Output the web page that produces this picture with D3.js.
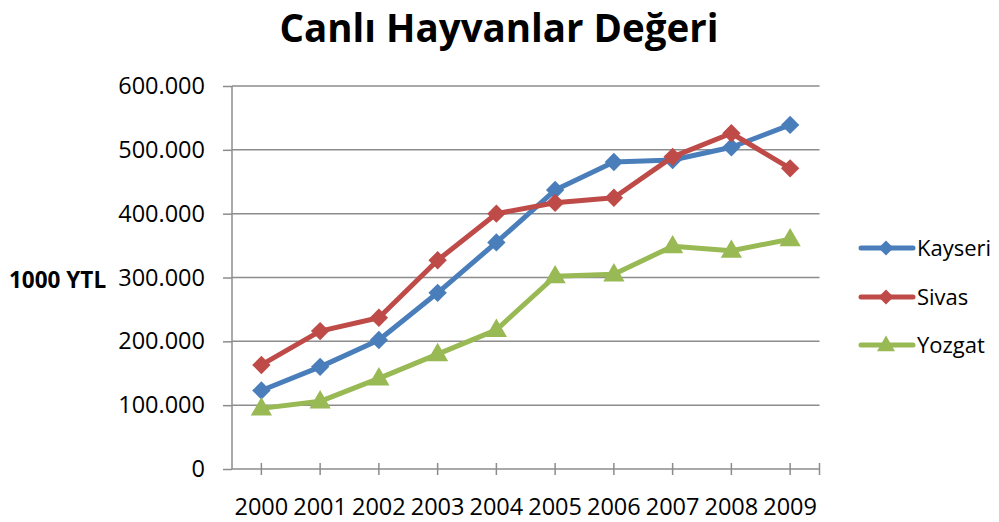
<!DOCTYPE html>
<html><head><meta charset="utf-8">
<script src="https://cdn.jsdelivr.net/npm/d3@7"></script>
<style>body{margin:0;background:#fff}svg{display:block}</style>
</head><body>
<script>
const years = ["2000","2001","2002","2003","2004","2005","2006","2007","2008","2009"];
const kayseri = [123,160,202,276,355,437,481,484,504,539];
const sivas   = [163,216,237,327,400,417,425,489,526,471];
const yozgat  = [95,106,142,180,218,302,305,349,342,360];
const yTicks = [0,100,200,300,400,500,600];
const seriesNames = ["Kayseri","Sivas","Yozgat"];
const colors = ["#4a7ebb","#be4b48","#98b954"];
const series = [kayseri,sivas,yozgat];

const W=999,H=522;
const svg=d3.select("body").append("svg").attr("width",W).attr("height",H);
const font="Open Sans, Liberation Sans, sans-serif";
const L=232,R=819.5,T=86,B=469;
const x=d3.scaleBand().domain(years).range([L,R]);
const y=d3.scaleLinear().domain([0,600]).range([B,T]);
const trFmt=d3.formatLocale({decimal:",",thousands:".",grouping:[3],currency:["",""]}).format(",");

svg.append("text").attr("x",499).attr("y",42).attr("text-anchor","middle")
  .attr("font-family",font).attr("font-weight","bold").attr("font-size",38.5)
  .attr("fill","#000").text("Canlı Hayvanlar Değeri");

// gridlines
svg.append("g").selectAll("line").data(yTicks.filter(d=>d>0)).join("line")
  .attr("x1",L).attr("x2",R).attr("y1",d=>y(d)).attr("y2",d=>y(d))
  .attr("stroke","#8c8c8c").attr("stroke-width",1.5);

// y axis
const ya=svg.append("g").attr("transform",`translate(${L},0)`)
  .call(d3.axisLeft(y).tickValues(yTicks).tickSize(9).tickPadding(18)
  .tickFormat(d=>trFmt(d*1000)));
ya.select(".domain").attr("stroke","#8c8c8c").attr("stroke-width",1.5).attr("d",`M0,${B}V${T}`);
ya.selectAll(".tick line").attr("stroke","#8c8c8c").attr("stroke-width",1.5);
ya.selectAll("text").attr("font-family",font).attr("font-size",23.5).attr("fill","#000");

// x axis
const xa=svg.append("g").attr("transform",`translate(0,${B})`);
xa.append("line").attr("x1",L).attr("x2",R).attr("stroke","#8c8c8c").attr("stroke-width",1.5);
const tickXs=years.map(d=>x(d)+x.bandwidth()/2).concat([R]);
xa.selectAll("line.t").data(tickXs).join("line").attr("class","t")
  .attr("x1",d=>d).attr("x2",d=>d).attr("y1",-6).attr("y2",6)
  .attr("stroke","#8c8c8c").attr("stroke-width",1.5);
xa.selectAll("text").data(years).join("text")
  .attr("x",d=>x(d)+x.bandwidth()/2).attr("y",46).attr("text-anchor","middle")
  .attr("font-family",font).attr("font-size",23.5).attr("fill","#000").text(d=>d);

svg.append("text").attr("x",9).attr("y",288).attr("font-family",font)
  .attr("font-weight","bold").attr("font-size",22.5).attr("fill","#000").text("1000 YTL");

const cx=d=>x(d)+x.bandwidth()/2;
const diamond=d3.symbol().type(d3.symbolDiamond2).size(215);
const tri=d3.symbol().type(d3.symbolTriangle).size(195);
const line=d3.line().x((d,i)=>cx(years[i])).y(d=>y(d));
series.forEach((s,k)=>{
  const g=svg.append("g");
  g.append("path").attr("d",line(s)).attr("fill","none").attr("stroke",colors[k])
    .attr("stroke-width",5).attr("stroke-linejoin","round");
  g.selectAll("path.m").data(s).join("path").attr("class","m")
    .attr("transform",(d,i)=>`translate(${cx(years[i])},${y(d)+(k===2?1:0)})`)
    .attr("d",k===2?tri:diamond).attr("fill",colors[k]);
});

// legend
const legY=[248,297,345];
seriesNames.forEach((n,k)=>{
  const g=svg.append("g").attr("transform",`translate(0,${legY[k]})`);
  g.append("line").attr("x1",861).attr("x2",913).attr("stroke",colors[k]).attr("stroke-width",5).attr("stroke-linecap","round");
  g.append("path").attr("transform",`translate(886,${k===2?1:0})`)
    .attr("d",k===2?d3.symbol().type(d3.symbolTriangle).size(140)():d3.symbol().type(d3.symbolDiamond2).size(145)())
    .attr("fill",colors[k]);
  g.append("text").attr("x",917).attr("y",8).attr("font-family",font).attr("font-size",22)
    .attr("fill","#000").text(n);
});
</script>
</body></html>
